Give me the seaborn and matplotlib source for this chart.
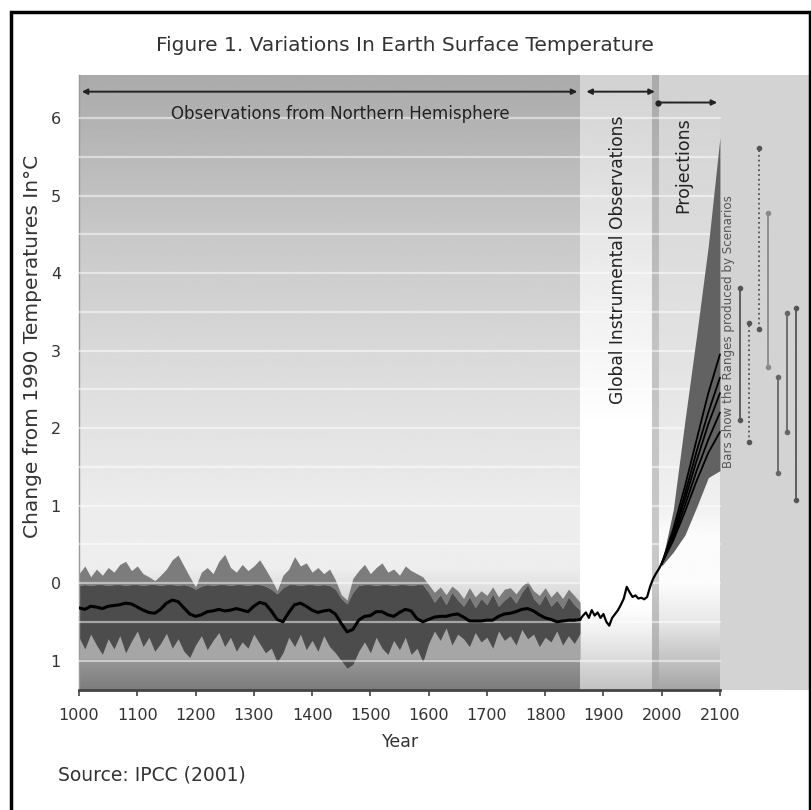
import numpy as np
import pandas as pd
import matplotlib
matplotlib.use("Agg")
import matplotlib.pyplot as plt
from matplotlib.patches import Rectangle
import seaborn as sns

# ---- data ----
nh_years = np.arange(1000, 1861, 10)

nh_mean = [
    -0.32, -0.34, -0.30, -0.31, -0.33, -0.30, -0.29, -0.28, -0.26, -0.27,
    -0.31, -0.35, -0.38, -0.39, -0.34, -0.26, -0.22, -0.24, -0.32, -0.40,
    -0.43, -0.41, -0.37, -0.36, -0.34, -0.36, -0.35, -0.33, -0.35, -0.37,
    -0.30, -0.25, -0.27, -0.36, -0.47, -0.50, -0.38, -0.28, -0.26, -0.30,
    -0.35, -0.38, -0.36, -0.35, -0.40, -0.52, -0.63, -0.60, -0.48, -0.43,
    -0.42, -0.37, -0.37, -0.41, -0.43, -0.38, -0.34, -0.36, -0.46, -0.50,
    -0.47, -0.44, -0.43, -0.43, -0.41, -0.40, -0.44, -0.49, -0.49, -0.49,
    -0.48, -0.48, -0.43, -0.40, -0.39, -0.37, -0.34, -0.33, -0.36, -0.41,
    -0.45, -0.47, -0.50, -0.49, -0.48, -0.48, -0.47,
]

nh_band_top = [
    -0.03, -0.02, -0.03, -0.02, -0.02, -0.03, -0.02, -0.02, -0.03, -0.02,
    -0.02, -0.03, -0.02, -0.02, -0.03, -0.02, -0.02, -0.03, -0.02, -0.04,
    -0.08, -0.04, -0.02, -0.03, -0.02, -0.02, -0.03, -0.02, -0.02, -0.03,
    -0.02, -0.02, -0.04, -0.08, -0.14, -0.06, -0.02, -0.02, -0.03, -0.02,
    -0.02, -0.03, -0.02, -0.03, -0.08, -0.20, -0.27, -0.12, -0.03, -0.02,
    -0.02, -0.03, -0.02, -0.02, -0.03, -0.02, -0.02, -0.03, -0.02, -0.02,
    -0.12, -0.25, -0.15, -0.28, -0.12, -0.22, -0.30, -0.18, -0.32, -0.20,
    -0.28, -0.14, -0.30, -0.22, -0.16, -0.26, -0.12, -0.02, -0.20, -0.28,
    -0.15, -0.30, -0.22, -0.33, -0.18, -0.28, -0.35,
]

nh_spike_top = [
    0.12, 0.22, 0.08, 0.18, 0.10, 0.20, 0.14, 0.24, 0.28, 0.16,
    0.22, 0.12, 0.08, 0.03, 0.10, 0.18, 0.30, 0.36, 0.22, 0.08,
    -0.05, 0.14, 0.20, 0.12, 0.28, 0.37, 0.20, 0.14, 0.24, 0.16,
    0.22, 0.30, 0.18, 0.05, -0.10, 0.10, 0.18, 0.34, 0.22, 0.26,
    0.14, 0.20, 0.12, 0.18, 0.04, -0.15, -0.22, 0.06, 0.16, 0.24,
    0.12, 0.20, 0.26, 0.14, 0.18, 0.10, 0.22, 0.16, 0.12, 0.08,
    -0.02, -0.12, -0.05, -0.15, -0.04, -0.10, -0.20, -0.06, -0.18, -0.10,
    -0.16, -0.05, -0.18, -0.08, -0.06, -0.14, -0.04, 0.02, -0.10, -0.16,
    -0.06, -0.18, -0.10, -0.20, -0.08, -0.16, -0.25,
]

nh_band_low = [
    -0.70, -0.85, -0.66, -0.80, -0.92, -0.72, -0.85, -0.68, -0.90, -0.75,
    -0.62, -0.82, -0.70, -0.88, -0.78, -0.65, -0.84, -0.72, -0.88, -0.96,
    -0.80, -0.68, -0.86, -0.74, -0.64, -0.82, -0.70, -0.88, -0.76, -0.84,
    -0.66, -0.78, -0.90, -0.84, -1.02, -0.90, -0.70, -0.82, -0.66, -0.86,
    -0.74, -0.88, -0.68, -0.82, -0.90, -1.00, -1.10, -1.05, -0.88, -0.76,
    -0.90, -0.70, -0.84, -0.92, -0.74, -0.86, -0.70, -0.92, -0.84, -1.02,
    -0.78, -0.62, -0.74, -0.58, -0.80, -0.66, -0.72, -0.82, -0.64, -0.76,
    -0.70, -0.84, -0.62, -0.74, -0.68, -0.80, -0.60, -0.72, -0.66, -0.82,
    -0.70, -0.76, -0.62, -0.80, -0.68, -0.78, -0.65,
]

inst_years = np.arange(1860, 2001, 5)
inst_temp = [
    -0.47, -0.42, -0.38, -0.45, -0.35, -0.42, -0.38, -0.45, -0.40, -0.50,
    -0.55, -0.45, -0.40, -0.35, -0.28, -0.20, -0.05, -0.12, -0.18, -0.16,
    -0.20, -0.19, -0.21, -0.18, -0.05, 0.05, 0.12, 0.18, 0.25,
]

proj_years = [2000, 2020, 2040, 2060, 2080, 2100]
proj_high = [0.25, 0.95, 2.10, 3.20, 4.35, 5.75]
proj_low = [0.22, 0.40, 0.62, 0.98, 1.36, 1.45]
scenarios = {
    "A": [0.25, 0.70, 1.25, 1.85, 2.45, 2.95],
    "B": [0.25, 0.65, 1.15, 1.70, 2.20, 2.65],
    "C": [0.25, 0.62, 1.08, 1.58, 2.05, 2.45],
    "D": [0.25, 0.58, 1.00, 1.45, 1.85, 2.20],
    "E": [0.25, 0.55, 0.92, 1.32, 1.68, 1.95],
}

# range bars to the right of 2100
bar_x = [2134, 2150, 2167, 2182, 2200, 2215, 2230]
bar_low = [2.10, 1.82, 3.28, 2.79, 1.42, 1.95, 1.07]
bar_high = [3.81, 3.35, 5.61, 4.77, 2.66, 3.48, 3.55]
bar_style = ["-", ":", ":", "-", "-", "-", "-"]
bar_color = ["#555555", "#555555", "#555555", "#8a8a8a", "#666666", "#666666", "#555555"]

x_ticks = list(range(1000, 2101, 100))
y_ticks = [6, 5, 4, 3, 2, 1, 0, -1]
y_ticklabels = ["6", "5", "4", "3", "2", "1", "0", "1"]

sns.set_theme(style="white")
plt.rcParams["font.family"] = ["DejaVu Sans"]

XMIN, XMAX = 1000, 2254.5
YMIN, YMAX = -1.381, 6.555

fig = plt.figure(figsize=(8.12, 8.10), dpi=100)
ax = fig.add_axes([0.0973, 0.1481, 0.9002, 0.7593])


def vgrad(x0, x1, knots, greys, z=0):
    # vertical grey gradient used for the shaded backdrop panels
    yy = np.linspace(YMIN, YMAX, 400)
    vals = np.interp(yy, knots, greys)[::-1][:, None]
    ax.imshow(vals, extent=[x0, x1, YMIN, YMAX], cmap="gray", vmin=0, vmax=255,
              aspect="auto", interpolation="bilinear", zorder=z)


vgrad(1000, 1860, [-1.38, -1.0, -0.5, 0.2, 1.0, 2.5, 4.5, 6.55],
      [125, 150, 200, 238, 236, 222, 200, 170])
vgrad(1860, 1983, [-1.38, -1.0, -0.6, -0.3, 2.0, 4.0, 6.55],
      [195, 218, 242, 255, 255, 236, 210])
vgrad(1983, 1996, [-1.38, 0.0, 3.0, 6.55], [165, 200, 195, 170])
vgrad(1996, 2100, [-1.38, -1.0, -0.5, 0.0, 0.6, 1.0, 3.0, 6.55],
      [165, 195, 232, 252, 252, 240, 226, 210])
vgrad(2100, XMAX, [YMIN, YMAX], [212, 212])

# white horizontal guide lines every half degree
for yv in np.arange(-1.0, 6.01, 0.5):
    ax.plot([1000, 2100], [yv, yv], color="white", lw=1.6, alpha=0.5, zorder=3)

# northern hemisphere reconstruction
ax.fill_between(nh_years, nh_band_top, nh_spike_top, color="#7c7c7c", lw=0, zorder=1)
ax.fill_between(nh_years, -0.98, nh_band_low, color="#a6a6a6", lw=0, zorder=1)
ax.fill_between(nh_years, nh_band_low, nh_band_top, color="#4c4c4c", lw=0, zorder=2)
sns.lineplot(x=nh_years, y=nh_mean, color="black", lw=2.2, ax=ax, zorder=5)

# instrumental record
sns.lineplot(x=inst_years, y=inst_temp, color="black", lw=1.6, ax=ax, zorder=5)

# projections
ax.fill_between(proj_years, proj_low, proj_high, color="#626262", lw=0, zorder=4)
for name, vals in scenarios.items():
    sns.lineplot(x=proj_years, y=vals, color="black", lw=1.3, ax=ax, zorder=5)

for xb, lo, hi, ls, c in zip(bar_x, bar_low, bar_high, bar_style, bar_color):
    ax.plot([xb, xb], [lo, hi], ls=ls, color=c, lw=1.3, zorder=5)
    ax.plot([xb, xb], [lo, hi], ls="none", marker="o", ms=3, color=c, zorder=5)

# period arrows at the top
arrow_kw = dict(arrowstyle="<|-|>", color="#222222", lw=1.4, mutation_scale=8)
ax.annotate("", xy=(1000, 6.34), xytext=(1860, 6.34), arrowprops=arrow_kw, zorder=6)
ax.annotate("", xy=(1866, 6.34), xytext=(1993, 6.34), arrowprops=arrow_kw, zorder=6)
ax.annotate("", xy=(2100, 6.20), xytext=(1993, 6.20),
            arrowprops=dict(arrowstyle="-|>", color="#222222", lw=1.4, mutation_scale=8),
            zorder=6)
ax.plot([1993], [6.20], marker="o", ms=3.5, color="#222222", zorder=6)

ax.text(1448, 6.05, "Observations from Northern Hemisphere", ha="center", va="center",
        fontsize=12, color="#222222", zorder=6)
ax.text(1925, 4.17, "Global Instrumental Observations", rotation=90, ha="center",
        va="center", fontsize=12.3, color="#222222", zorder=6)
ax.text(2037, 5.39, "Projections", rotation=90, ha="center", va="center",
        fontsize=12.5, color="#222222", zorder=6)
ax.text(2114, 3.25, "Bars show the Ranges produced by Scenarios", rotation=90,
        ha="center", va="center", fontsize=8.6, color="#555555", zorder=6)

ax.set_xlim(XMIN, XMAX)
ax.set_ylim(YMIN, YMAX)
ax.set_xticks(x_ticks)
ax.set_xticklabels([str(t) for t in x_ticks], fontsize=11.5, color="#333333")
ax.set_yticks(y_ticks)
ax.set_yticklabels(y_ticklabels, fontsize=11.5, color="#333333")
ax.tick_params(axis="x", bottom=True, length=4, width=1.2, color="#444444", pad=9)
ax.tick_params(axis="y", left=False, pad=7)

for s in ["top", "right"]:
    ax.spines[s].set_visible(False)
ax.spines["bottom"].set_bounds(1000, 2100)
ax.spines["bottom"].set_color("#444444")
ax.spines["bottom"].set_linewidth(2)
ax.spines["left"].set_color("#999999")
ax.spines["left"].set_linewidth(1)

ax.set_xlabel("Year", fontsize=12.5, color="#333333")
ax.xaxis.set_label_coords(0.440, -0.070)
ax.set_ylabel("Change from 1990 Temperatures In\u00b0C", fontsize=14.5, color="#333333")
ax.yaxis.set_label_coords(-0.050, 0.558)

fig.text(0.499, 0.944, "Figure 1. Variations In Earth Surface Temperature",
         ha="center", va="center", fontsize=14.5, color="#333333")
fig.text(0.0714, 0.043, "Source: IPCC (2001)", ha="left", va="center",
         fontsize=13.5, color="#333333")

fig.add_artist(Rectangle((0.013, -0.02), 0.984, 1.005, transform=fig.transFigure,
                         fill=False, lw=2.5, ec="black"))

fig.savefig("out.png", dpi=100)
